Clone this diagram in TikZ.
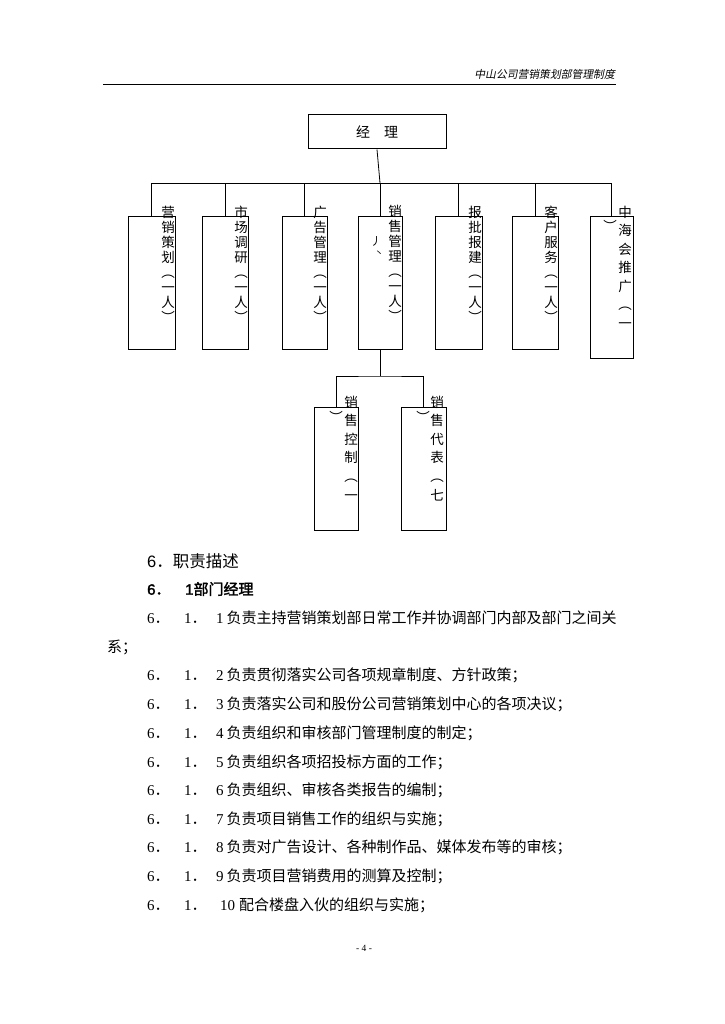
\documentclass[tikz,border=0pt]{standalone}
\usepackage{fontspec}
\setmainfont{Liberation Serif}
\setsansfont{Liberation Sans}
\newfontfamily\cjk{Noto Sans CJK SC}
\newfontfamily\cjkit[FakeSlant=0.2]{Noto Sans CJK SC}
\newfontfamily\cjkbf[FakeBold=2]{Noto Sans CJK SC}
\newfontfamily\sfbf[FakeBold=2]{Liberation Sans}
\newcommand\vcolumn[5]{\foreach \c [count=\i from 0] in {#5} {\node[ch] (#1-\i) at (#2,{#3+#4*\i+5.1}) {\c};}}
\begin{document}
\begin{tikzpicture}[x=1pt,y=-1pt,
  box/.style={draw, line width=1pt, inner sep=0pt},
  link/.style={line width=0.8pt},
  ch/.style={anchor=base, inner sep=0pt, font=\cjk\fontsize{13.5}{13.5}\selectfont},
  body/.style={anchor=base west, inner sep=0pt, font=\fontsize{15}{15}\selectfont}]
\useasboundingbox (0,0) rectangle (724,1024);
\fill[white] (0,0) rectangle (724,1024);
% header
\node[anchor=east, inner sep=0pt, font=\cjkit\fontsize{10.8}{10.8}\selectfont] (hdr) at (615,74) {中山公司营销策划部管理制度};
\coordinate (hl) at (103,84.5);
\coordinate (hr) at (616,84.5);
\draw[line width=1.3pt] (hl) -- (hr);
% top box
\node[box, minimum width=138, minimum height=34, font=\cjk\fontsize{14}{14}\selectfont] (boss) at (377,132) {经\hspace{14pt}理};
% children
\node[box, minimum width=47, minimum height=132] (b1) at (151.5,283) {};
\node[box, minimum width=46, minimum height=132] (b2) at (225,283) {};
\node[box, minimum width=45, minimum height=132] (b3) at (304.5,283) {};
\node[box, minimum width=44, minimum height=132] (b4) at (380,283) {};
\node[box, minimum width=47, minimum height=132] (b5) at (458.5,283) {};
\node[box, minimum width=46, minimum height=132] (b6) at (535,283) {};
\node[box, minimum width=43, minimum height=141] (b7) at (611.5,287.5) {};
\node[box, minimum width=44, minimum height=123] (bA) at (336,468.5) {};
\node[box, minimum width=45, minimum height=123] (bB) at (423.5,468.5) {};
% connectors
\coordinate (bar) at (380,183);
\coordinate (bar2) at (380,376);
\draw[link] (boss.south) -- (bar);
\draw[link] (b1.north) |- (bar);
\draw[link] (b7.north) |- (bar);
\foreach \b in {b2,b3,b4,b5,b6} {\draw[link] (\b.north) -- (\b.north |- bar);}
\draw[link] (b4.south) -- (bar2);
\draw[link] (bA.north) |- (bar2) -| (bB.north);
% vertical texts
\vcolumn{t1}{168}{212}{15}{营,销,策,划,︵,一,人,︶}
\vcolumn{t2}{241}{212}{15}{市,场,调,研,︵,一,人,︶}
\vcolumn{t3}{320}{212}{15}{广,告,管,理,︵,一,人,︶}
\vcolumn{t4}{395}{211}{15}{销,售,管,理,︵,一,人,︶}
\node[ch, font=\cjk\fontsize{11}{11}\selectfont] (t4x) at (376,{241+4}) {丿};
\node[ch, font=\cjk\fontsize{9}{9}\selectfont] (t4y) at (379,{253+3.4}) {丶};
\vcolumn{t5}{475}{212}{15}{报,批,报,建,︵,一,人,︶}
\vcolumn{t6}{551}{212}{15}{客,户,服,务,︵,一,人,︶}
\vcolumn{t7}{625}{212}{18.5}{中,海,会,推,广,︵,一}
\node[ch] (t7x) at (610,{226+5.1}) {︶};
\vcolumn{tA}{351}{402}{18.6}{销,售,控,制,︵,一}
\node[ch] (tAx) at (336,{417+5.1}) {︶};
\vcolumn{tB}{437}{402}{18.6}{销,售,代,表,︵,七}
\node[ch] (tBx) at (423,{417+5.1}) {︶};
% body text
\node[anchor=base west, inner sep=0pt, font=\sffamily\fontsize{16.5}{16.5}\selectfont] (h6) at (147,{561+6.3}) {6{\cjk ．职责描述}};
\node[anchor=base west, inner sep=0pt, font=\sfbf\fontsize{15}{15}\selectfont] (s6) at (147,{589+5.7}) {6{\cjkbf ．}};
\node[anchor=base west, inner sep=0pt, font=\sfbf\fontsize{15}{15}\selectfont] (s1) at (185,{589+5.7}) {1{\cjkbf 部门经理}};
\foreach \n/\t/\y in {1/负责主持营销策划部日常工作并协调部门内部及部门之间关/618,
  2/负责贯彻落实公司各项规章制度、方针政策；/675,
  3/负责落实公司和股份公司营销策划中心的各项决议；/704,
  4/负责组织和审核部门管理制度的制定；/733,
  5/负责组织各项招投标方面的工作；/762,
  6/负责组织、审核各类报告的编制；/790,
  7/负责项目销售工作的组织与实施；/819,
  8/负责对广告设计、各种制作品、媒体发布等的审核；/847,
  9/负责项目营销费用的测算及控制；/876} {
  \node[body] (a-\n) at (147,{\y+5.7}) {6{\cjk ．}};
  \node[body] (b-\n) at (184,{\y+5.7}) {1{\cjk ．}};
  \node[body] (c-\n) at (216,{\y+5.7}) {\n\hspace{3pt}{\cjk \t}};
}
\node[body] (sys) at (107,{647+5.7}) {{\cjk 系；}};
\node[body] (a-10) at (147,{905+5.7}) {6{\cjk ．}};
\node[body] (b-10) at (184,{905+5.7}) {1{\cjk ．}};
\node[body] (c-10) at (220,{905+5.7}) {10\hspace{4pt}{\cjk 配合楼盘入伙的组织与实施；}};
\node[anchor=base, inner sep=0pt, font=\fontsize{9.5}{9.5}\selectfont] (pg) at (364,951) {- 4 -};
\end{tikzpicture}
\end{document}
